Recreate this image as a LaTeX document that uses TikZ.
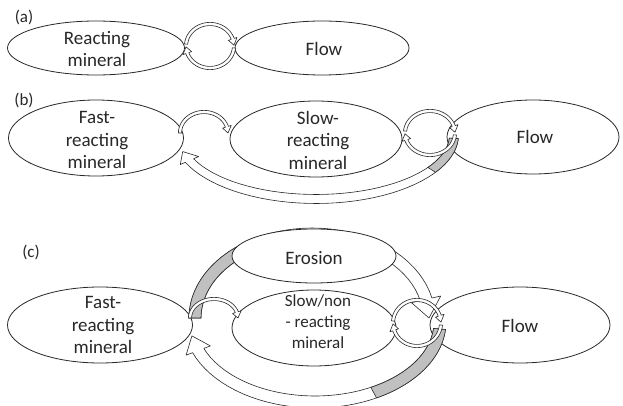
\documentclass[tikz,border=0pt]{standalone}
\usepackage{fontspec}
\setmainfont{Carlito}
\usetikzlibrary{shapes.geometric,calc}
\definecolor{shade}{RGB}{192,192,192}
\definecolor{ink}{RGB}{40,40,40}
\tikzset{
  oval/.style={ellipse,draw=ink,fill=white,inner sep=0pt,line width=0.8pt},
  txt/.style={align=center,inner sep=0pt,text=ink,font=\fontsize{19}{22.5}\selectfont},
  lbl/.style={inner sep=0pt,text=ink,font=\fontsize{17}{20}\selectfont},
  arrowline/.style={draw=ink,line width=0.6pt,line join=round},
}
% block arrow along an elliptic arc: [fill] cx cy rx ry a1 a2(tip) halfwidth headhalfwidth
\newcommand\barc[9][white]{%
  \pgfmathsetmacro\bOx{#4+#8}\pgfmathsetmacro\bOy{#5+#8}%
  \pgfmathsetmacro\bIx{#4-#8}\pgfmathsetmacro\bIy{#5-#8}%
  \pgfmathsetmacro\bHOx{#4+#9}\pgfmathsetmacro\bHOy{#5+#9}%
  \pgfmathsetmacro\bHIx{#4-#9}\pgfmathsetmacro\bHIy{#5-#9}%
  \pgfmathsetmacro\bH{#7-sign(#7-#6)*1.5*#9/((#4+#5)/2)*57.3}%
  \draw[arrowline,fill=#1] plot[domain=#6:\bH,samples=40] ({#2+\bOx*cos(\x)},{#3+\bOy*sin(\x)})
    -- ({#2+\bHOx*cos(\bH)},{#3+\bHOy*sin(\bH)})
    -- ({#2+#4*cos(#7)},{#3+#5*sin(#7)})
    -- ({#2+\bHIx*cos(\bH)},{#3+\bHIy*sin(\bH)})
    -- plot[domain=\bH:#6,samples=40] ({#2+\bIx*cos(\x)},{#3+\bIy*sin(\x)}) -- cycle;}
% band segment: [fill] cx cy rx ry a1 a2 halfwidth
\newcommand\bseg[8][shade]{%
  \pgfmathsetmacro\bOx{#4+#8}\pgfmathsetmacro\bOy{#5+#8}%
  \pgfmathsetmacro\bIx{#4-#8}\pgfmathsetmacro\bIy{#5-#8}%
  \draw[arrowline,fill=#1] plot[domain=#6:#7,samples=30] ({#2+\bOx*cos(\x)},{#3+\bOy*sin(\x)})
    -- plot[domain=#7:#6,samples=30] ({#2+\bIx*cos(\x)},{#3+\bIy*sin(\x)}) -- cycle;}
\begin{document}
\begin{tikzpicture}[x=1pt,y=-1pt]
\useasboundingbox (0,0) rectangle (623,406);
\fill[white] (0,0) rectangle (623,406);

% ---------------- (a)
\node[lbl] (la) at (24,17) {(a)};
\node[oval,minimum width=177,minimum height=54] (reactA) at (96,48) {};
\node[oval,minimum width=174,minimum height=54] (flowA) at (322,48) {};
\node[txt] (treactA) at (97,49) {Reacting\\mineral};
\node[txt] (tflowA) at (324,49) {Flow};
\barc{210}{46}{24}{22}{185}{358}{1.6}{4.5}
\barc{210}{46}{24}{22}{5}{178}{1.6}{4.5}

% ---------------- (b)
\node[lbl] (lb) at (24,100) {(b)};
\node[oval,minimum width=175,minimum height=76] (fastB) at (96,138) {};
\node[oval,minimum width=172,minimum height=76] (slowB) at (316,139) {};
\node[oval,minimum width=172,minimum height=74] (flowB) at (533,137) {};
\node[txt] (tfastB) at (97,140) {Fast-\\reacting\\mineral};
\node[txt] (tslowB) at (318,140) {Slow-\\reacting\\mineral};
\node[txt] (tflowB) at (535,137) {Flow};
\barc{316}{135}{138}{64}{3}{165}{4.5}{10}
\bseg{316}{135}{138}{64}{3}{33}{4.5}
\barc{204}{133}{24}{21}{180}{360}{1.6}{4.5}
\barc{430}{133}{25}{22}{185}{358}{1.6}{4.5}
\barc{430}{133}{25}{22}{5}{178}{1.6}{4.5}

% ---------------- (c)
\node[lbl] (lc) at (31,252) {(c)};
\node[oval,minimum width=185,minimum height=76] (fastC) at (100,325) {};
\node[oval,minimum width=180,minimum height=76] (flowC) at (520,325) {};
\node[oval,minimum width=164,minimum height=76] (slowC) at (314,328) {};
\barc{312}{318}{117}{84}{180}{360}{6}{15}
\bseg{312}{318}{117}{84}{180}{232}{6}
\node[oval,minimum width=164,minimum height=54] (erosC) at (314,256) {};
\barc{315}{322}{125}{80}{5}{170}{6}{13}
\bseg{315}{322}{125}{80}{5}{62}{6}
\barc{214}{318}{24}{19}{180}{360}{1.6}{4.5}
\barc{417}{323}{24}{23}{185}{358}{1.6}{4.5}
\barc{417}{323}{24}{23}{5}{178}{1.6}{4.5}
\node[txt] (tfastC) at (103,325) {Fast-\\reacting\\mineral};
\node[txt] (tflowC) at (520,326) {Flow};
\node[txt] (terosC) at (314,258) {Erosion};
\node[txt,font=\fontsize{17}{21}\selectfont] (tslowC) at (318,322) {Slow/non\\- reacting\\mineral};
\end{tikzpicture}
\end{document}
